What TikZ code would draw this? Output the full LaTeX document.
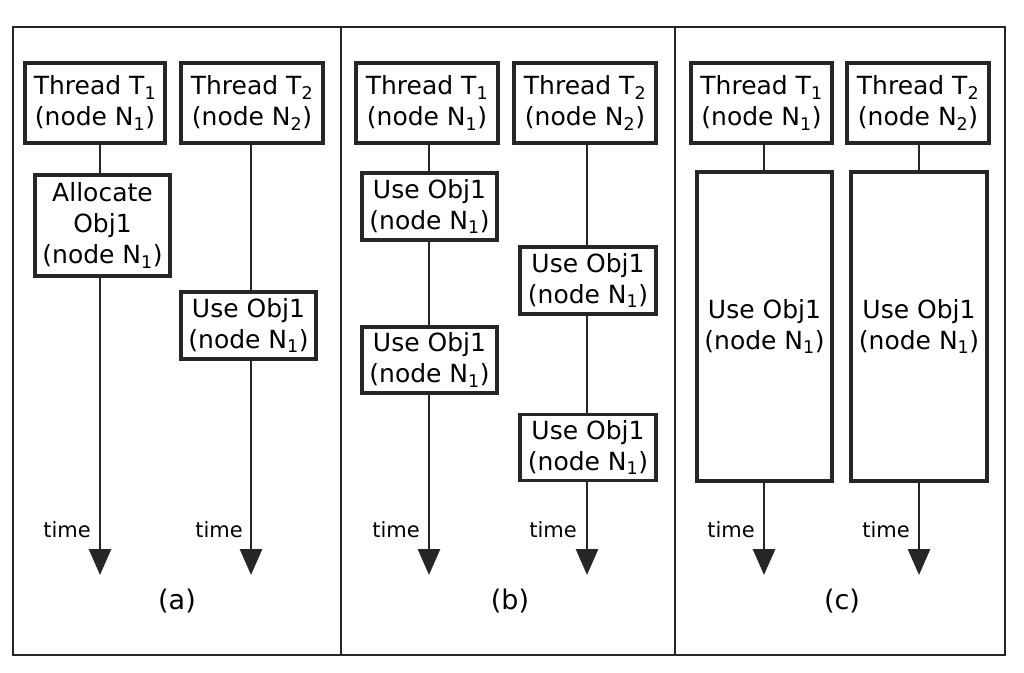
\documentclass[tikz,border=0pt]{standalone}
\usepackage{fontspec}
\setmainfont{DejaVu Sans}
\usetikzlibrary{arrows.meta}
\newcommand{\sbs}[1]{\textsubscript{#1}}
\begin{document}
\begin{tikzpicture}[x=1pt,y=-1pt,
  box/.style={draw=black!85,line width=3.4pt,fill=white,inner sep=0pt,align=center,
    font=\fontsize{25}{31}\selectfont},
  link/.style={draw=black!85,line width=2.8pt},
  tarrow/.style={link,-{Triangle[width=22pt,length=26pt]}},
  tlabel/.style={anchor=east,font=\fontsize{21}{24}\selectfont,inner sep=0pt},
  sublabel/.style={font=\fontsize{27}{30}\selectfont,inner sep=0pt},
  frame/.style={draw=black!85,line width=2.8pt}]
\useasboundingbox (0,0) rectangle (1024,672);
% frame
\draw[frame] (13,27) rectangle (1005,655);
\draw[frame] (341,27) -- (341,655);
\draw[frame] (675,27) -- (675,655);
% ---------- (a)
\node[box,minimum width=140pt,minimum height=80pt] (at1) at (95,103) {Thread T\sbs{1}\\(node N\sbs{1})};
\node[box,minimum width=142pt,minimum height=80pt] (at2) at (252,103) {Thread T\sbs{2}\\(node N\sbs{2})};
\node[box,minimum width=135pt,minimum height=101pt] (aal) at (102.5,225.5) {Allocate\\Obj1\\(node N\sbs{1})};
\node[box,minimum width=135pt,minimum height=67pt] (aus) at (248.5,325.5) {Use Obj1\\(node N\sbs{1})};
\coordinate (aend1) at (100,575);
\coordinate (aend2) at (251,575);
\draw[link] (aal.north -| aend1) -- (at1.south -| aend1);
\draw[link] (aus.north -| aend2) -- (at2.south -| aend2);
\draw[tarrow] (aal.south -| aend1) -- (aend1);
\draw[tarrow] (aus.south -| aend2) -- (aend2);
\node[tlabel] (atl1) at (91,530) {time};
\node[tlabel] (atl2) at (243,530) {time};
\node[sublabel] (capa) at (177,601) {(a)};
% ---------- (b)
\node[box,minimum width=142pt,minimum height=80pt] (bt1) at (427,103) {Thread T\sbs{1}\\(node N\sbs{1})};
\node[box,minimum width=142pt,minimum height=80pt] (bt2) at (585,103) {Thread T\sbs{2}\\(node N\sbs{2})};
\node[box,minimum width=135pt,minimum height=67pt] (bu1) at (429.5,206.5) {Use Obj1\\(node N\sbs{1})};
\node[box,minimum width=135pt,minimum height=66pt] (bu2) at (429.5,360) {Use Obj1\\(node N\sbs{1})};
\node[box,minimum width=136pt,minimum height=67pt] (bu3) at (588,280.5) {Use Obj1\\(node N\sbs{1})};
\node[box,minimum width=136pt,minimum height=66pt] (bu4) at (588,447.5) {Use Obj1\\(node N\sbs{1})};
\coordinate (bend1) at (429,575);
\coordinate (bend2) at (587,575);
\draw[link] (bt1.south -| bend1) -- (bu1.north -| bend1);
\draw[link] (bu1.south -| bend1) -- (bu2.north -| bend1);
\draw[link] (bt2.south -| bend2) -- (bu3.north -| bend2);
\draw[link] (bu3.south -| bend2) -- (bu4.north -| bend2);
\draw[tarrow] (bu2.south -| bend1) -- (bend1);
\draw[tarrow] (bu4.south -| bend2) -- (bend2);
\node[tlabel] (btl1) at (420,530) {time};
\node[tlabel] (btl2) at (577,530) {time};
\node[sublabel] (capb) at (510,601) {(b)};
% ---------- (c)
\node[box,minimum width=141pt,minimum height=80pt] (ct1) at (761.5,103) {Thread T\sbs{1}\\(node N\sbs{1})};
\node[box,minimum width=142pt,minimum height=80pt] (ct2) at (918,103) {Thread T\sbs{2}\\(node N\sbs{2})};
\node[box,minimum width=135pt,minimum height=309pt] (cu1) at (764.5,326.5) {Use Obj1\\(node N\sbs{1})};
\node[box,minimum width=136pt,minimum height=309pt] (cu2) at (919,326.5) {Use Obj1\\(node N\sbs{1})};
\coordinate (cend1) at (764,575);
\coordinate (cend2) at (919,575);
\draw[link] (ct1.south -| cend1) -- (cu1.north -| cend1);
\draw[link] (ct2.south -| cend2) -- (cu2.north -| cend2);
\draw[tarrow] (cu1.south -| cend1) -- (cend1);
\draw[tarrow] (cu2.south -| cend2) -- (cend2);
\node[tlabel] (ctl1) at (755,530) {time};
\node[tlabel] (ctl2) at (910,530) {time};
\node[sublabel] (capc) at (842,601) {(c)};
\end{tikzpicture}
\end{document}
